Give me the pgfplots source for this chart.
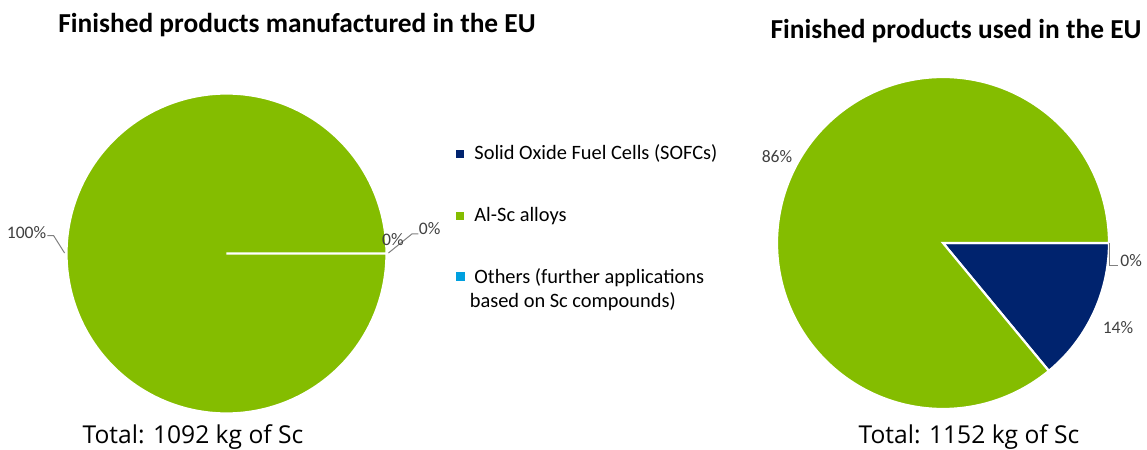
\documentclass[border=0pt]{standalone}
\usepackage{pgfplots}
\pgfplotsset{compat=1.18}
\usepackage{fontspec}
\setmainfont{Carlito}
\newfontfamily\totalfont{Open Sans}
\definecolor{sofc}{HTML}{00236E}
\definecolor{alsc}{HTML}{84BD00}
\definecolor{others}{HTML}{00A0DF}
\definecolor{lbl}{HTML}{404040}
\definecolor{lead}{HTML}{808080}

\begin{document}
\begin{tikzpicture}[x=1pt,y=1pt]
\path[use as bounding box] (0,0) rectangle (573.5,225);
% shares in percent
\def\leftSOFC{0}\def\leftAlSc{100}\def\leftOthers{0}
\def\rightSOFC{14}\def\rightAlSc{86}\def\rightOthers{0}
\pgfmathsetmacro\lA{-3.6*\leftSOFC}
\pgfmathsetmacro\lB{\lA-3.6*\leftAlSc}
\pgfmathsetmacro\rA{-3.6*\rightSOFC}
\pgfmathsetmacro\rB{\rA-3.6*\rightAlSc}

\pgfplotsset{pie/.style={scale only axis, hide axis, clip=false,
  xmin=-1, xmax=1, ymin=-1, ymax=1, anchor=south west},
  wedge/.style={draw=white, line width=1.1pt, samples=241, variable=\t, forget plot}}
\tikzset{plbl/.style={text=lbl, font=\fontsize{8.8}{10}\selectfont}}

% ---------------- left pie ----------------
\begin{axis}[pie, at={(33.25pt,18.25pt)}, width=160pt, height=160pt,
  legend style={draw=none, fill=none, at={(1.196,0.859)}, anchor=north west,
    font=\fontsize{10.2}{12}\selectfont, row sep=20pt,
    nodes={align=left, inner sep=1pt}},
  legend cell align=left,
  legend image code/.code={\fill[#1] (0pt,-2pt) rectangle (4pt,2pt);}]
\addlegendimage{fill=sofc, draw=none}
\addlegendentry{\ \,Solid Oxide Fuel Cells (SOFCs)}
\addlegendimage{fill=alsc, draw=none}
\addlegendentry{\ \,Al-Sc alloys}
\addlegendimage{legend image code/.code={\fill[others] (0pt,4.5pt) rectangle (4pt,8.5pt);}}
\addlegendentry{\ \,Others (further applications\\\,based on Sc compounds)}
\addplot[wedge, fill=alsc, domain=\lB:\lA] ({cos(\t)},{sin(\t)}) -- (axis cs:0,0) -- cycle;
\draw[lead, line width=0.5pt] (axis cs:-1.012,0.003) -- (axis cs:-1.08,0.111) -- (axis cs:-1.12,0.111);
\node[plbl] at (axis cs:-1.25,0.130) {100\%};
\draw[lead, line width=0.5pt] (axis cs:1.012,0.003) -- (axis cs:1.16,0.123) -- (axis cs:1.2,0.123);
\node[plbl] at (axis cs:1.04,0.085) {0\%};
\node[plbl] at (axis cs:1.27,0.155) {0\%};
\end{axis}

% ---------------- right pie ----------------
\begin{axis}[pie, at={(388.5pt,20.5pt)}, width=166pt, height=166pt]
\addplot[wedge, fill=sofc, domain=\rA:0] ({cos(\t)},{sin(\t)}) -- (axis cs:0,0) -- cycle;
\addplot[wedge, fill=alsc, domain=\rB:\rA] ({cos(\t)},{sin(\t)}) -- (axis cs:0,0) -- cycle;
\node[plbl] at (axis cs:-1.0,0.518) {86\%};
\node[plbl] at (axis cs:1.054,-0.512) {14\%};
\draw[lead, line width=0.5pt] (axis cs:1.0,0) -- (axis cs:1.0,-0.133) -- (axis cs:1.054,-0.133);
\node[plbl] at (axis cs:1.133,-0.108) {0\%};
\end{axis}

% titles and totals
\node[anchor=base, font=\fontsize{13.7}{15}\selectfont\bfseries] at (148.5,208.5) {Finished products manufactured in the EU};
\node[anchor=base, font=\fontsize{13.7}{15}\selectfont\bfseries] at (478,205.5) {Finished products used in the EU};
\node[anchor=base, font=\totalfont\fontsize{12.3}{14}\selectfont] at (96.5,3) {Total: 1092 kg of Sc};
\node[anchor=base, font=\totalfont\fontsize{12.3}{14}\selectfont] at (484.5,3) {Total: 1152 kg of Sc};
\end{tikzpicture}
\end{document}
